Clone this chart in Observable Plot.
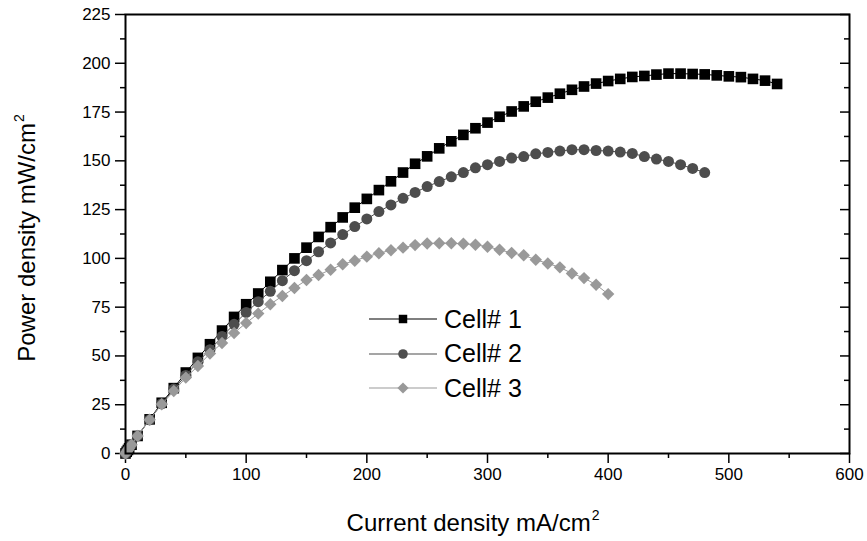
<!DOCTYPE html>
<html>
<head>
<meta charset="utf-8">
<script src="https://cdn.jsdelivr.net/npm/d3@7"></script>
<script src="https://cdn.jsdelivr.net/npm/@observablehq/plot@0.6"></script>
<style>
  html, body { margin: 0; padding: 0; background: #fff; }
  #wrap { position: relative; width: 867px; height: 541px; font-family: "Liberation Sans", Arial, sans-serif; color: #000; }
  .title { position: absolute; font-size: 24px; line-height: 24px; white-space: nowrap; }
  .title sup { font-size: 14px; line-height: 0; position: relative; top: -11px; vertical-align: baseline; margin-left: 1px; }
  .legrow { position: absolute; height: 34px; display: flex; align-items: center; font-size: 25px; white-space: nowrap; }
  .legrow svg { display: block; margin-right: 7px; }
</style>
</head>
<body>
<div id="wrap"></div>
<script>
// ---- data ----
const seriesNames = ["Cell# 1", "Cell# 2", "Cell# 3"];
const seriesColors = ["#000000", "#4d4d4d", "#999999"];
const seriesSymbols = ["square", "circle", "diamond2"];

// current density (mA/cm2), shared sampling of the measurements
const current = [0, 1, 2, 3, 5, 10, 20, 30, 40, 50, 60, 70, 80, 90, 100,
  110, 120, 130, 140, 150, 160, 170, 180, 190, 200,
  210, 220, 230, 240, 250, 260, 270, 280, 290, 300,
  310, 320, 330, 340, 350, 360, 370, 380, 390, 400,
  410, 420, 430, 440, 450, 460, 470, 480, 490, 500,
  510, 520, 530, 540];

// power density (mW/cm2)
const cell1Power = [0, 0.9, 1.8, 2.7, 4.5, 9, 17.5, 26, 33.5, 41.5, 49, 56, 63, 70, 76.5,
  82, 88, 94, 100, 105.5, 111, 116, 121, 126, 130.5,
  135, 139.5, 144, 148.5, 152.3, 156.4, 160, 163.3, 166.7, 169.6,
  172.6, 175.3, 177.9, 180.3, 182.4, 184.4, 186.4, 188.1, 189.6, 190.9,
  192, 193, 193.5, 194.2, 194.7, 194.7, 194.5, 194.3, 193.8, 193.3,
  192.9, 192, 191.1, 189.4];
const cell2Power = [0, 0.9, 1.8, 2.7, 4.5, 9, 17.3, 25.5, 33, 40, 47, 53.2, 60, 66.2, 72.3,
  77.8, 83.1, 88.6, 93.7, 98.8, 103.4, 107.9, 112.2, 116.3, 120.2,
  124, 127.4, 130.8, 133.8, 136.8, 139.4, 141.8, 144, 146.4, 148,
  149.7, 151.4, 152.2, 153.6, 154.3, 155, 155.7, 155.7, 155.3, 155,
  154.5, 153.8, 152.2, 150.9, 149.7, 148, 146.1, 144];
const cell3Power = [0, 0.9, 1.8, 2.7, 4.5, 9, 17.3, 25.2, 32, 38.9, 44.8, 51.2, 56.6, 61.8, 66.9,
  71.7, 76.5, 80.7, 84.8, 88.9, 91.5, 94.2, 97, 98.8, 100.9,
  102.6, 104.2, 105.5, 106.8, 107.6, 107.8, 107.8, 107.5, 107, 106,
  104.4, 102.8, 101.6, 99.3, 97.4, 95.4, 92.3, 89.9, 86.5, 81.7];

const xMajorTicks = [0, 100, 200, 300, 400, 500, 600];
const xMinorTicks = [50, 150, 250, 350, 450, 550];
const yMajorTicks = [0, 25, 50, 75, 100, 125, 150, 175, 200, 225];
const yMinorTicks = [12.5, 37.5, 62.5, 87.5, 112.5, 137.5, 162.5, 187.5, 212.5];

const xTitle = "Current density mA/cm";
const yTitle = "Power density mW/cm";
const unitSup = "2";

// ---- build table ----
const powers = [cell1Power, cell2Power, cell3Power];
const seriesRows = powers.map((p, s) => p.map((v, i) => ({series: seriesNames[s], current: current[i], power: v})));

const markerR = [6.0, 5.5, 5.6];
const seriesMarks = seriesRows.flatMap((rows, s) => [
  Plot.line(rows, {x: "current", y: "power", stroke: seriesColors[s], strokeWidth: 1}),
  Plot.dot(rows, {x: "current", y: "power", symbol: () => seriesSymbols[s], fill: seriesColors[s], stroke: "none", r: markerR[s]})
]);

const chart = Plot.plot({
  width: 867,
  height: 541,
  marginLeft: 125,
  marginRight: 18,
  marginTop: 14,
  marginBottom: 88,
  x: {domain: [0, 600]},
  y: {domain: [0, 225]},
  symbol: {domain: seriesSymbols, range: seriesSymbols},
  style: {fontFamily: "'Liberation Sans', Arial, sans-serif", fontSize: "17px", color: "#000", background: "#fff", overflow: "visible"},
  marks: [
    Plot.axisY(yMajorTicks, {anchor: "left", tickSize: 10, tickPadding: 5, strokeWidth: 1.5, label: null, tickFormat: d => String(d), fontSize: 17}),
    Plot.axisY(yMinorTicks, {anchor: "left", tickSize: 5, strokeWidth: 1.5, label: null, tickFormat: () => ""}),
    Plot.axisY(yMajorTicks, {anchor: "right", tickSize: -10, strokeWidth: 1.5, label: null, tickFormat: () => ""}),
    Plot.axisY(yMinorTicks, {anchor: "right", tickSize: -6, strokeWidth: 1.5, label: null, tickFormat: () => ""}),
    Plot.axisX(xMajorTicks, {anchor: "bottom", tickSize: 10, tickPadding: 4, strokeWidth: 1.5, label: null, tickFormat: d => String(d), fontSize: 17}),
    Plot.axisX(xMinorTicks, {anchor: "bottom", tickSize: 5, strokeWidth: 1.5, label: null, tickFormat: () => ""}),
    ...seriesMarks,
    Plot.frame({stroke: "#000", strokeWidth: 2})
  ]
});

const wrap = document.getElementById("wrap");
wrap.appendChild(chart);

// axis titles
const xt = document.createElement("div");
xt.className = "title";
xt.innerHTML = `${xTitle}<sup>${unitSup}</sup>`;
xt.style.left = "473px";
xt.style.top = "511px";
xt.style.transform = "translateX(-50%)";
wrap.appendChild(xt);

const yt = document.createElement("div");
yt.className = "title";
yt.innerHTML = `${yTitle}<sup>${unitSup}</sup>`;
yt.style.left = "27px";
yt.style.top = "238px";
yt.style.transform = "translate(-50%, -50%) rotate(-90deg)";
wrap.appendChild(yt);

// legend
seriesNames.forEach((name, i) => {
  const row = document.createElement("div");
  row.className = "legrow";
  row.style.left = "369px";
  row.style.top = (302 + i * 34.5) + "px";
  const svg = d3.create("svg").attr("width", 68).attr("height", 20);
  svg.append("line").attr("x1", 0).attr("x2", 68).attr("y1", 10).attr("y2", 10)
    .attr("stroke", seriesColors[i]).attr("stroke-width", 1.2);
  const sym = {square: d3.symbolSquare, circle: d3.symbolCircle, diamond2: d3.symbolDiamond2}[seriesSymbols[i]];
  svg.append("path").attr("d", d3.symbol(sym, i === 2 ? 80 : 72)()).attr("transform", "translate(34,10)")
    .attr("fill", seriesColors[i]);
  row.appendChild(svg.node());
  const t = document.createElement("span");
  t.textContent = name;
  row.appendChild(t);
  wrap.appendChild(row);
});
</script>
</body>
</html>
